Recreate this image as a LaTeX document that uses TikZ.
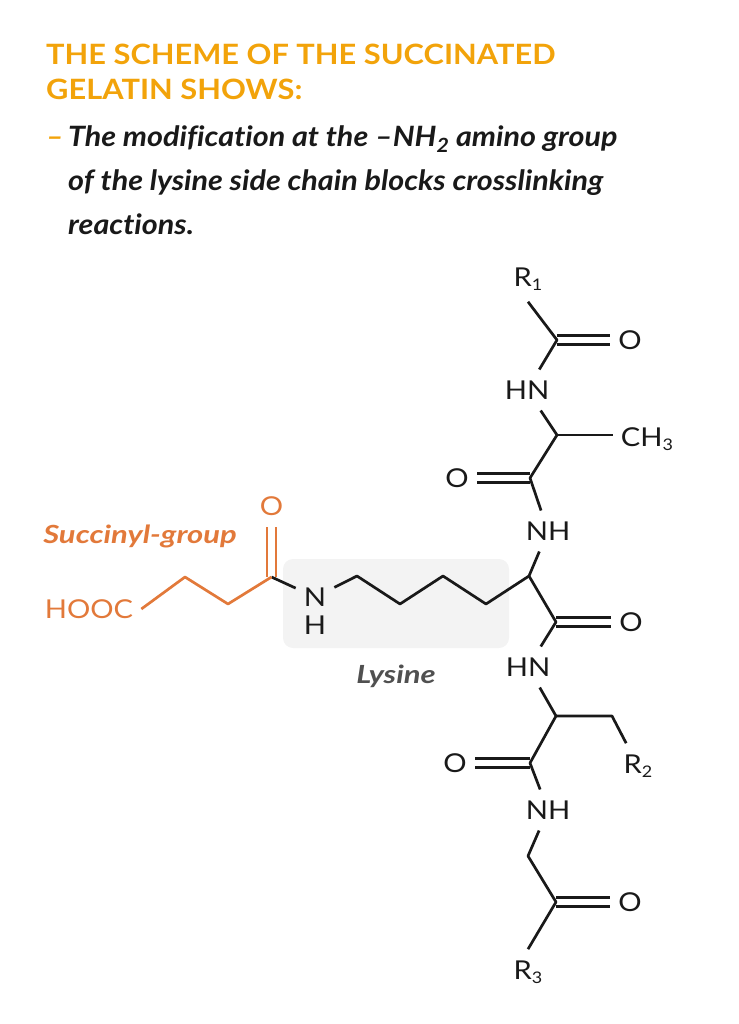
\documentclass[tikz,border=0pt]{standalone}
\usepackage{fontspec}
\setmainfont{Lato}
\newfontfamily\headfont[FakeStretch=1.1]{Lato}
\newfontfamily\bodyfont[FakeStretch=1.09,Ligatures=CommonOff]{Lato}
\newfontfamily\atomfont[FakeStretch=1.12]{Lato}
\newfontfamily\tagfont[FakeStretch=1.24]{Lato}
\usepackage{xcolor}
\definecolor{titleorange}{RGB}{242,163,10}
\definecolor{succorange}{RGB}{226,121,58}
\definecolor{lysgray}{RGB}{80,80,80}
\definecolor{boxgray}{RGB}{243,243,243}
\definecolor{inkblack}{RGB}{25,25,25}
\newcommand{\atomsub}[1]{\raisebox{-4.5pt}{\fontsize{16}{16}\selectfont #1}}

\begin{document}
\begin{tikzpicture}[x=1pt,y=1pt,yscale=-1,xscale=1,
  atom/.style={inner xsep=8pt,inner ysep=11pt,text=inkblack,font=\atomfont\fontsize{26}{26}\selectfont},
  bond/.style={line width=2.7pt,line join=round,draw=inkblack},
  dbond/.style={line width=2.7pt,double,double distance=6.3pt,draw=inkblack},
  heading/.style={anchor=base west,inner sep=0pt,text=titleorange,font=\headfont\fontsize{28}{28}\selectfont\bfseries},
  bodyline/.style={anchor=base west,inner sep=0pt,text=inkblack,font=\bodyfont\fontsize{28}{28}\selectfont\bfseries\itshape},
  tag/.style={anchor=base,inner sep=0pt,font=\tagfont\fontsize{25}{25}\selectfont\bfseries\itshape}]
\useasboundingbox (0,0) rectangle (738,1024);

%Shape: Rounded Rectangle behind the lysine chain
\fill[boxgray,rounded corners=10pt] (283,559) rectangle (509,648);

% Text Node
\node[heading] (title1) at (46,65) {THE SCHEME OF THE SUCCINATED};
\node[heading] (title2) at (46,100) {GELATIN SHOWS:};
% Text Node
\node[bodyline,text=titleorange] (dash) at (46,147) {–};
\node[bodyline] (line1) at (68,147) {The modification at the –NH\textsubscript{2} amino group};
\node[bodyline] (line2) at (68,191) {of the lysine side chain blocks crosslinking};
\node[bodyline] (line3) at (68,235) {reactions.};

% Text Node
\node[tag,text=succorange] (succ) at (140,543) {Succinyl-group};
\node[tag,text=lysgray] (lys) at (396,683) {Lysine};

% Atoms
\node[atom] (R1) at (528,279) {R\atomsub{1}};
\node[atom] (O1) at (630,340) {O};
\node[atom] (HN1) at (527,390) {HN};
\node[atom] (CH3) at (647,439) {CH\atomsub{3}};
\node[atom] (O2) at (457,478) {O};
\node[atom] (NH2) at (548,531) {NH};
\node[atom] (O3) at (631,622) {O};
\node[atom] (HN3) at (528,667) {HN};
\node[atom] (R2) at (638,766) {R\atomsub{2}};
\node[atom] (O4) at (455,763) {O};
\node[atom] (NH4) at (548,810) {NH};
\node[atom] (O5) at (630,902) {O};
\node[atom] (R3) at (528,972) {R\atomsub{3}};
\node[atom] (N) at (315,597) {N};
\node[atom,inner sep=0pt] (H) at (315,625) {H};
\node[atom,text=succorange] (HOOC) at (89,609) {HOOC};
\node[atom,text=succorange] (O6) at (271.5,506) {O};

% Carbon vertices
\coordinate (C1) at (557,340);
\coordinate (CA1) at (557,435);
\coordinate (C2) at (530,478);
\coordinate (CA2) at (529,576);
\coordinate (C3) at (556,622);
\coordinate (CA3) at (556,716);
\coordinate (CB3) at (612,716);
\coordinate (C4) at (530,763);
\coordinate (CB4) at (528,856);
\coordinate (C5) at (556,902);
\coordinate (L1) at (357,576);
\coordinate (L2) at (400,604);
\coordinate (L3) at (443,576);
\coordinate (L4) at (486,604);
\coordinate (S1) at (185,577);
\coordinate (S2) at (228,604);
\coordinate (C6) at (271.5,577);

% Double bonds
\draw[dbond] (C1) -- (O1);
\draw[dbond] (C2) -- (O2);
\draw[dbond] (C3) -- (O3);
\draw[dbond] (C4) -- (O4);
\draw[dbond] (C5) -- (O5);
\draw[dbond,draw=succorange] (C6) -- (O6);

% Backbone
\draw[bond] (R1.south) -- (C1) -- (HN1);
\draw[bond] (HN1) -- (CA1) -- (C2) -- (NH2);
\draw[bond] (CA1) -- (CA1 -| CH3.west);
\draw[bond] (NH2) -- (CA2) -- (C3) -- (HN3);
\draw[bond] (HN3) -- (CA3) -- (C4) -- (NH4);
\draw[bond] (CA3) -- (CB3) -- (R2);
\draw[bond] (NH4) -- (CB4) -- (C5) -- (R3.north);

% Lysine side chain
\draw[bond] (CA2) -- (L4) -- (L3) -- (L2) -- (L1) -- (N);
\draw[bond] (N) -- (C6);

% Succinyl group
\draw[bond,draw=succorange] (HOOC.east) -- (S1) -- (S2) -- (C6);

\end{tikzpicture}
\end{document}
